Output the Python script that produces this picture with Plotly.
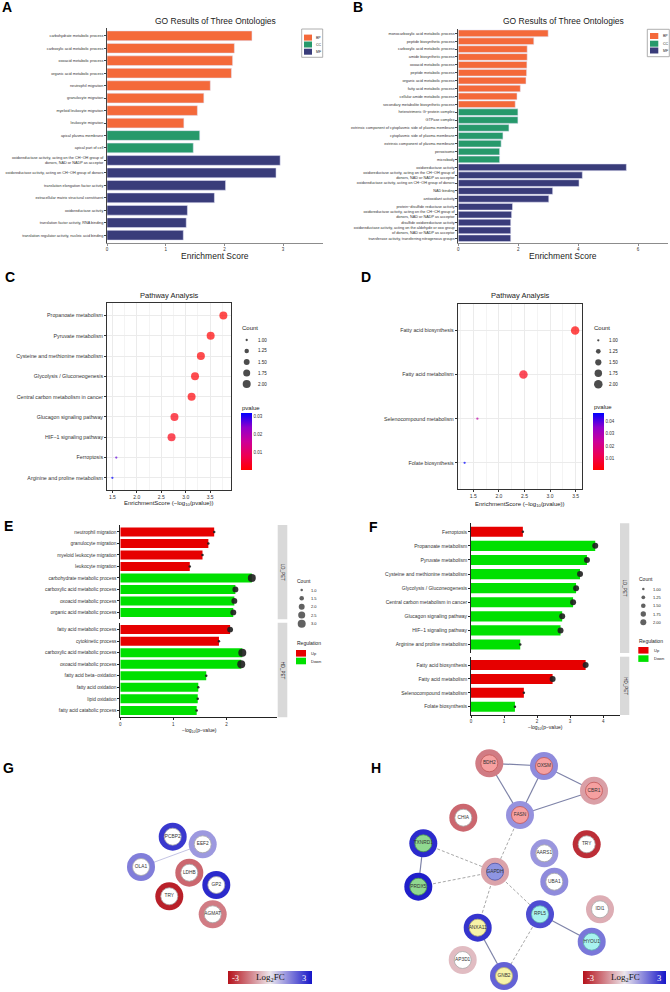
import math
import plotly.graph_objects as go

W, H = 670, 992
FONT = "Liberation Sans, Arial, Helvetica, sans-serif"
SERIF = "Liberation Serif, Times New Roman, serif"

# ---------------- data ----------------
A_terms = [
    "carbohydrate metabolic process",
    "carboxylic acid metabolic process",
    "oxoacid metabolic process",
    "organic acid metabolic process",
    "neutrophil migration",
    "granulocyte migration",
    "myeloid leukocyte migration",
    "leukocyte migration",
    "apical plasma membrane",
    "apical part of cell",
    "oxidoreductase activity, acting on the CH−OH group of<br>donors, NAD or NADP as acceptor",
    "oxidoreductase activity, acting on CH−OH group of donors",
    "translation elongation factor activity",
    "extracellular matrix structural constituent",
    "oxidoreductase activity",
    "translation factor activity, RNA binding",
    "translation regulator activity, nucleic acid binding",
]
A_onto = ["BP"] * 8 + ["CC"] * 2 + ["MF"] * 7
A_score = [2.47, 2.17, 2.14, 2.12, 1.76, 1.65, 1.54, 1.31, 1.58, 1.47,
           2.95, 2.88, 2.02, 1.83, 1.37, 1.35, 1.30]

B_terms = [
    "monocarboxylic acid metabolic process",
    "peptide biosynthetic process",
    "carboxylic acid metabolic process",
    "amide biosynthetic process",
    "oxoacid metabolic process",
    "peptide metabolic process",
    "organic acid metabolic process",
    "fatty acid metabolic process",
    "cellular amide metabolic process",
    "secondary metabolite biosynthetic process",
    "heterotrimeric G−protein complex",
    "GTPase complex",
    "extrinsic component of cytoplasmic side of plasma membrane",
    "cytoplasmic side of plasma membrane",
    "extrinsic component of plasma membrane",
    "peroxisome",
    "microbody",
    "oxidoreductase activity",
    "oxidoreductase activity, acting on the CH−OH group of<br>donors, NAD or NADP as acceptor",
    "oxidoreductase activity, acting on CH−OH group of donors",
    "NAD binding",
    "antioxidant activity",
    "protein−disulfide reductase activity",
    "oxidoreductase activity, acting on the CH−CH group of<br>donors, NAD or NADP as acceptor",
    "disulfide oxidoreductase activity",
    "oxidoreductase activity, acting on the aldehyde or oxo group<br>of donors, NAD or NADP as acceptor",
    "transferase activity, transferring nitrogenous groups",
]
B_onto = ["BP"] * 10 + ["CC"] * 7 + ["MF"] * 10
B_score = [3.00, 2.52, 2.30, 2.30, 2.29, 2.28, 2.26, 2.07, 1.96, 1.90,
           1.99, 1.99, 1.69, 1.49, 1.43, 1.38, 1.38,
           5.61, 4.14, 4.03, 3.15, 3.02, 1.81, 1.78, 1.75, 1.75, 1.75]
ONTO_LEVELS = ["BP", "CC", "MF"]

C_path = ["Propanoate metabolism", "Pyruvate metabolism",
          "Cysteine and methionine metabolism", "Glycolysis / Gluconeogenesis",
          "Central carbon metabolism in cancer", "Glucagon signaling pathway",
          "HIF−1 signaling pathway", "Ferroptosis", "Arginine and proline metabolism"]
C_score = [3.77, 3.51, 3.31, 3.19, 3.12, 2.77, 2.71, 1.58, 1.50]
C_count = [2, 2, 2, 2, 2, 2, 2, 1, 1]

D_path = ["Fatty acid biosynthesis", "Fatty acid metabolism",
          "Selenocompound metabolism", "Folate biosynthesis"]
D_score = [3.49, 2.48, 1.58, 1.33]
D_count = [2, 2, 1, 1]

E_ld_terms = ["neutrophil migration", "granulocyte migration", "myeloid leukocyte migration",
              "leukocyte migration", "carbohydrate metabolic process",
              "carboxylic acid metabolic process", "oxoacid metabolic process",
              "organic acid metabolic process"]
E_ld_score = [1.77, 1.66, 1.55, 1.31, 2.48, 2.17, 2.15, 2.13]
E_ld_reg = ["Up"] * 4 + ["Down"] * 4
E_ld_count = [1, 1, 1, 1, 3, 2, 2, 2]

E_hd_terms = ["fatty acid metabolic process", "cytokinetic process",
              "carboxylic acid metabolic process", "oxoacid metabolic process",
              "fatty acid beta−oxidation", "fatty acid oxidation", "lipid oxidation",
              "fatty acid catabolic process"]
E_hd_score = [2.07, 1.86, 2.30, 2.28, 1.62, 1.47, 1.46, 1.44]
E_hd_reg = ["Up", "Up"] + ["Down"] * 6
E_hd_count = [2, 1, 3, 3, 1, 1, 1, 1]

F_ld_terms = ["Ferroptosis", "Propanoate metabolism", "Pyruvate metabolism",
              "Cysteine and methionine metabolism", "Glycolysis / Gluconeogenesis",
              "Central carbon metabolism in cancer", "Glucagon signaling pathway",
              "HIF−1 signaling pathway", "Arginine and proline metabolism"]
F_ld_score = [1.57, 3.76, 3.51, 3.30, 3.18, 3.09, 2.76, 2.71, 1.49]
F_ld_reg = ["Up"] + ["Down"] * 8
F_ld_count = [1, 2, 2, 2, 2, 2, 2, 2, 1]

F_hd_terms = ["Fatty acid biosynthesis", "Fatty acid metabolism",
              "Selenocompound metabolism", "Folate biosynthesis"]
F_hd_score = [3.47, 2.47, 1.60, 1.33]
F_hd_reg = ["Up", "Up", "Up", "Down"]
F_hd_count = [2, 2, 1, 1]

# PPI networks (node layout coordinates, in px)
G_nodes = ["PCBP2", "EEF2", "OLA1", "LDHB", "GP2", "TRY", "AGMAT"]
G_x = [172.7, 202.7, 141.0, 189.3, 216.3, 169.3, 212.7]
G_y = [836.7, 844.3, 867.0, 872.7, 885.0, 896.3, 914.3]
G_fc = [2.5, 1.1, 1.5, -1.8, 2.7, -2.8, -1.5]
G_edges = [("OLA1", "EEF2")]

H_nodes = ["BDH2", "OXSM", "CBR1", "FASN", "CHIA", "TXNRD1", "TRY", "AARS1", "GAPDH",
           "PRDX5", "UBA1", "IDI1", "RPL5", "ANXA11", "HYOU1", "AP3D1", "GNB2"]
H_x = [489.3, 544.0, 594.0, 520.0, 463.3, 423.3, 586.7, 544.3, 495.0,
       418.3, 554.3, 600.0, 540.0, 477.7, 591.7, 462.7, 504.0]
H_y = [763.3, 766.0, 790.7, 815.0, 817.7, 843.3, 844.3, 853.3, 871.7,
       886.7, 881.7, 909.3, 914.3, 927.7, 941.7, 960.0, 976.0]
H_fc = [-1.5, 1.3, -1.0, 1.2, -1.8, 2.7, -2.6, 1.15, -0.95,
        2.85, 1.3, -0.8, 2.2, 2.55, 1.6, -0.6, 1.9]
H_cluster = ["a", "a", "a", "a", "", "b", "", "", "c",
             "b", "", "", "e", "d", "e", "", "d"]
H_solid = [("BDH2", "OXSM"), ("BDH2", "FASN"), ("OXSM", "FASN"), ("OXSM", "CBR1"),
           ("FASN", "CBR1"), ("TXNRD1", "PRDX5"), ("RPL5", "HYOU1"), ("ANXA11", "GNB2")]
H_dashed = [("FASN", "GAPDH"), ("TXNRD1", "GAPDH"), ("PRDX5", "GAPDH"),
            ("GAPDH", "ANXA11"), ("GAPDH", "RPL5"), ("RPL5", "GNB2")]

# ---------------- styles ----------------
ONTO_COLORS = {"BP": "#F4693A", "CC": "#26996B", "MF": "#393C7A"}
REG_COLORS = {"Up": "#E60000", "Down": "#00E000"}
P_SCALE = [[0, "#FF0000"], [0.25, "#EE0052"], [0.5, "#CC0099"], [0.75, "#9000CC"], [1, "#0000FF"]]
FC_SCALE = [[0, "#B5121B"], [0.5, "#ECE6EC"], [1, "#1515C8"]]
CLUSTER_FILL = {"a": ("#F6A0A0", "#C05858"), "b": ("#90D890", "#4C9A4C"),
                "c": ("#8E95E2", "#4E55A8"), "d": ("#F7F3A8", "#B8B070"),
                "e": ("#A8F3EF", "#5EB0B0"), "": ("#FFFFFF", "#A8A8A8")}


def xd(a, b):
    return [a / W, b / W]


def yd(top, bot):
    return [1 - bot / H, 1 - top / H]


def px(x):
    return x / W


def py(y):
    return 1 - y / H


annotations = []
shapes = []


def ann(text, x, y, size, color="#222", xanchor="center", yanchor="middle",
        family=FONT, angle=0):
    annotations.append(dict(text=text, x=px(x), y=py(y), xref="paper", yref="paper",
                            showarrow=False, xanchor=xanchor, yanchor=yanchor,
                            textangle=angle, borderpad=0,
                            font=dict(size=size, color=color, family=family)))


def rect(x0, y0, x1, y1, fill, line=None, lw=0):
    shapes.append(dict(type="rect", xref="paper", yref="paper",
                       x0=px(x0), x1=px(x1), y0=py(y1), y1=py(y0),
                       fillcolor=fill, line=dict(color=line or fill, width=lw)))


def dsize(c, cmin, cmax, dmin, dmax):
    return math.sqrt(dmin ** 2 + (dmax ** 2 - dmin ** 2) * (c - cmin) / (cmax - cmin))


def cat_axis(domain, anchor, n, fs, linecolor="#444", color="#333", grid=False, mirror=False):
    return dict(domain=domain, anchor=anchor, type="category", range=[n - 0.4, -0.6],
                tickmode="linear", tick0=0, dtick=1, showline=True, linecolor=linecolor,
                linewidth=0.8, mirror=mirror, ticks="outside", ticklen=2, tickwidth=0.6,
                tickcolor=linecolor, tickfont=dict(size=fs, color=color, family=FONT),
                showgrid=grid, gridcolor="#EBEBEB", gridwidth=0.6, zeroline=False,
                fixedrange=True)


def num_axis(domain, anchor, rng, tickvals, ticktext=None, fs=4.5, showline=True,
             linecolor="#444", mirror=False, grid=False, minor_vals=None, showlabels=True):
    d = dict(domain=domain, anchor=anchor, range=rng, tickmode="array", tickvals=tickvals,
             ticktext=ticktext if ticktext else [str(v) for v in tickvals],
             showline=showline, linecolor=linecolor, linewidth=0.8, mirror=mirror,
             ticks="outside" if showlabels else "", ticklen=2, tickwidth=0.6,
             tickcolor=linecolor, showticklabels=showlabels,
             tickfont=dict(size=fs, color="#333", family=FONT),
             showgrid=grid, gridcolor="#EBEBEB", gridwidth=0.6, zeroline=False,
             fixedrange=True)
    if minor_vals:
        d["minor"] = dict(tickvals=minor_vals, showgrid=True, gridcolor="#F4F4F4",
                          gridwidth=0.5, ticks="")
    return d


fig = go.Figure()
layout = {}

# ---------------- A & B : GO bars ----------------
for terms, onto, score, xa, ya, xdom, ydom, rng, tv, bw in [
    (A_terms, A_onto, A_score, "x", "y", xd(107, 323), yd(28.3, 242.7), [0, 3.68], [0, 1, 2, 3], 0.78),
    (B_terms, B_onto, B_score, "x2", "y2", xd(458.3, 668), yd(28.6, 243), [0, 7.0], [0, 2, 4, 6], 0.85),
]:
    fig.add_trace(go.Bar(x=score, y=terms, orientation="h", width=bw,
                         marker=dict(color=[ONTO_COLORS[o] for o in onto],
                                     line=dict(color="rgba(228,228,245,0.9)", width=0.6)),
                         xaxis=xa, yaxis=ya, hoverinfo="skip"))
    xk = "xaxis" + xa[1:]
    yk = "yaxis" + ya[1:]
    layout[xk] = num_axis(xdom, ya, rng, tv, fs=4.5, linecolor="#8C8C8C")
    layout[yk] = cat_axis(ydom, xa, len(terms), 3.8, linecolor="#444")

ann("GO Results of Three Ontologies", 215, 21, 8.5)
ann("GO Results of Three Ontologies", 563.3, 21, 8.5)
ann("Enrichment Score", 215, 256, 8.5)
ann("Enrichment Score", 563.3, 256, 8.5)

# ontology legends
for bx0, by0, bx1, by1, sx0, sx1, tx, ys in [
    (301.7, 29, 322.7, 57.3, 304, 312, 315, [37.6, 44.5, 51.7]),
    (647.3, 29.3, 669.3, 56.7, 650, 658.3, 661.5, [36.0, 43.7, 50.5]),
]:
    rect(bx0, by0, bx1, by1, "rgba(0,0,0,0)", "#9A9A9A", 0.8)
    for lvl, yc in zip(ONTO_LEVELS, ys):
        rect(sx0, yc - 3, sx1, yc + 3, ONTO_COLORS[lvl])
        ann(lvl, tx, yc, 3.5, xanchor="left")

# ---------------- C & D : pathway dot plots ----------------
for path, score, count, xa, ya, xdom, ydom, rng, dmax, cbx, cbt in [
    (C_path, C_score, C_count, "x3", "y3", xd(107, 230.7), yd(303.3, 490), [1.39, 3.92], 8.0, 241, [0.01, 0.02, 0.03]),
    (D_path, D_score, D_count, "x4", "y4", xd(457.7, 582.3), yd(304, 489.3), [1.195, 3.63], 8.5, 593.3, [0.01, 0.02, 0.03, 0.04]),
]:
    pv = [10 ** (-s) for s in score]
    fig.add_trace(go.Scatter(
        x=score, y=path, mode="markers", xaxis=xa, yaxis=ya, cliponaxis=False, hoverinfo="skip",
        marker=dict(size=[dsize(c, 1, 2, 2.3, dmax) for c in count], color=pv,
                    colorscale=P_SCALE, showscale=True, line=dict(width=0),
                    colorbar=dict(x=px(cbx), xanchor="left", y=py(413.3), yanchor="top",
                                  len=56.7, lenmode="pixels", thickness=11, xpad=0, ypad=0,
                                  outlinewidth=0, tickvals=cbt, ticktext=["%.2f" % t for t in cbt],
                                  ticks="", tickfont=dict(size=4.5, color="#333", family=FONT))),
    ))
    xk = "xaxis" + xa[1:]
    yk = "yaxis" + ya[1:]
    layout[xk] = num_axis(xdom, ya, rng, [1.5, 2.0, 2.5, 3.0, 3.5],
                          ["1.5", "2.0", "2.5", "3.0", "3.5"], fs=5, linecolor="#333",
                          mirror=True, grid=True, minor_vals=[1.25, 1.75, 2.25, 2.75, 3.25, 3.75])
    layout[yk] = cat_axis(ydom, xa, len(path), 5.3, linecolor="#333", grid=True, mirror=True)

ann("Pathway Analysis", 169, 296, 7.5)
ann("Pathway Analysis", 520, 296, 7.5)
ann("EnrichmentScore (−log<sub>10</sub>(pvalue))", 169, 503.5, 6)
ann("EnrichmentScore (−log<sub>10</sub>(pvalue))", 520, 504, 6)

# ---------------- E & F : facet bars ----------------
facets = [
    (E_ld_terms, E_ld_score, E_ld_reg, E_ld_count, "x5", "y5", xd(120.3, 277.3), yd(525, 619.3), [0, 2.96], [0, 1, 2], False, (1, 3, 2.5, 8.0), 4.8, 0.78),
    (E_hd_terms, E_hd_score, E_hd_reg, E_hd_count, "x6", "y6", xd(120.3, 277.3), yd(622.7, 717.3), [0, 2.96], [0, 1, 2], True, (1, 3, 2.5, 8.0), 4.8, 0.78),
    (F_ld_terms, F_ld_score, F_ld_reg, F_ld_count, "x7", "y7", xd(471, 620), yd(523.3, 653), [0, 4.51], [0, 1, 2, 3, 4], False, (1, 2, 2.5, 6.0), 5.0, 0.72),
    (F_hd_terms, F_hd_score, F_hd_reg, F_hd_count, "x8", "y8", xd(471, 620), yd(656.7, 715), [0, 4.51], [0, 1, 2, 3, 4], True, (1, 2, 2.5, 6.0), 5.0, 0.72),
]
for terms, score, reg, count, xa, ya, xdom, ydom, rng, tv, bottom, sz, fs, bw in facets:
    fig.add_trace(go.Bar(x=score, y=terms, orientation="h", width=bw,
                         marker=dict(color=[REG_COLORS[r] for r in reg], line=dict(width=0)),
                         xaxis=xa, yaxis=ya, hoverinfo="skip"))
    fig.add_trace(go.Scatter(x=score, y=terms, mode="markers", xaxis=xa, yaxis=ya,
                             cliponaxis=False, hoverinfo="skip",
                             marker=dict(size=[dsize(c, *sz) for c in count],
                                         color="#1E1E1E", opacity=0.9, line=dict(width=0))))
    xk = "xaxis" + xa[1:]
    yk = "yaxis" + ya[1:]
    layout[xk] = num_axis(xdom, ya, rng, tv, fs=4.5, showline=bottom, linecolor="#222",
                          showlabels=bottom)
    layout[yk] = cat_axis(ydom, xa, len(terms), fs, linecolor="#222")

# strips
for x0, x1, y0, y1, lab in [
    (277.7, 287.3, 525, 619.3, "LD_PET"), (277.7, 287.3, 622.7, 717.3, "HD_PET"),
    (620, 629.3, 523.3, 653, "LD_PET"), (620, 629.3, 656.7, 715, "HD_PET"),
]:
    rect(x0, y0, x1, y1, "#D9D9D9")
    ann(lab, (x0 + x1) / 2, (y0 + y1) / 2, 4.5, color="#1A1A1A", angle=90)

ann("−log<sub>10</sub>(p−value)", 199, 730, 5)
ann("−log<sub>10</sub>(p−value)", 545.7, 727.5, 5)

# ---------------- overlay pixel axis (legends + networks) ----------------
layout["xaxis9"] = dict(domain=[0, 1], range=[0, W], visible=False, fixedrange=True, anchor="y9")
layout["yaxis9"] = dict(domain=[0, 1], range=[H, 0], visible=False, fixedrange=True, anchor="x9")


def count_legend(tx, ty, cx, lx, ys, levels, labels, sz, tsize, lsize, color):
    ann("Count", tx, ty, tsize, xanchor="left")
    fig.add_trace(go.Scatter(x=[cx] * len(ys), y=ys, mode="markers", xaxis="x9", yaxis="y9",
                             hoverinfo="skip", cliponaxis=False,
                             marker=dict(size=[dsize(v, *sz) for v in levels], color=color,
                                         line=dict(width=0))))
    for y, l in zip(ys, labels):
        ann(l, lx, y, lsize, xanchor="left")


lv4 = [1.0, 1.25, 1.5, 1.75, 2.0]
lb4 = ["1.00", "1.25", "1.50", "1.75", "2.00"]
count_legend(241, 327.7, 246.7, 256.5, [340, 351, 362, 373, 384], lv4, lb4, (1, 2, 2.3, 8.0), 6, 4.5, "black")
count_legend(593.3, 327.7, 598.3, 607.7, [340.3, 351.3, 362.3, 373.3, 384.3], lv4, lb4, (1, 2, 2.3, 8.5), 6, 4.5, "black")
ann("pvalue", 241, 407.7, 6, xanchor="left")
ann("pvalue", 593.3, 407.3, 6, xanchor="left")

count_legend(296, 580.7, 301.7, 310, [590, 598.3, 606.7, 615, 623.7],
             [1.0, 1.5, 2.0, 2.5, 3.0], ["1.0", "1.5", "2.0", "2.5", "3.0"], (1, 3, 2.5, 8.0), 5, 4, "#1E1E1E")
count_legend(638.3, 579.3, 643.3, 652, [589, 597.3, 605.7, 614, 622.3],
             lv4, lb4, (1, 2, 2.5, 6.0), 5, 4, "#1E1E1E")

for tx, ty, bx0, bx1, yu, ydn in [(296, 643.3, 296, 306, 653.3, 661), (638.3, 640.7, 638.3, 648.5, 650.3, 658.6)]:
    ann("Regulation", tx, ty, 5, xanchor="left")
    for lvl, yc in [("Up", yu), ("Down", ydn)]:
        rect(bx0, yc - 3.3, bx1, yc + 3.3, REG_COLORS[lvl])
        ann(lvl, bx1 + 4, yc, 4, xanchor="left")


# networks
def draw_edges(nodes, xs, ys, edges, color, width, dash):
    idx = {n: i for i, n in enumerate(nodes)}
    ex, ey = [], []
    for a, b in edges:
        ex += [xs[idx[a]], xs[idx[b]], None]
        ey += [ys[idx[a]], ys[idx[b]], None]
    fig.add_trace(go.Scatter(x=ex, y=ey, mode="lines", xaxis="x9", yaxis="y9", hoverinfo="skip",
                             line=dict(color=color, width=width, dash=dash)))


def draw_nodes(nodes, xs, ys, fc, clusters, cbx0, cblen):
    fig.add_trace(go.Scatter(
        x=xs, y=ys, mode="markers", xaxis="x9", yaxis="y9", hoverinfo="skip", cliponaxis=False,
        marker=dict(size=28, color=fc, colorscale=FC_SCALE, cmin=-3, cmax=3, line=dict(width=0),
                    showscale=True,
                    colorbar=dict(orientation="h", x=px(cbx0), xanchor="left", y=py(971),
                                  yanchor="top", len=cblen, lenmode="pixels", thickness=13,
                                  xpad=0, ypad=0, outlinewidth=0, showticklabels=False, ticks=""))))
    fills = [CLUSTER_FILL[c][0] for c in clusters]
    borders = [CLUSTER_FILL[c][1] for c in clusters]
    fig.add_trace(go.Scatter(
        x=xs, y=ys, mode="markers+text", text=nodes, textposition="middle center",
        xaxis="x9", yaxis="y9", hoverinfo="skip", cliponaxis=False,
        textfont=dict(size=4.8, color="#333", family=FONT),
        marker=dict(size=17, color=fills, line=dict(color=borders, width=0.8))))


draw_edges(G_nodes, G_x, G_y, G_edges, "#B4B4DC", 0.8, "solid")
draw_nodes(G_nodes, G_x, G_y, G_fc, [""] * len(G_nodes), 228.3, 84)

draw_edges(H_nodes, H_x, H_y, H_dashed, "#A8A8A8", 1.0, "3px,2px")
draw_edges(H_nodes, H_x, H_y, H_solid, "#7E83A8", 1.2, "solid")
draw_nodes(H_nodes, H_x, H_y, H_fc, H_cluster, 583.3, 83.4)

for x0, x1 in [(228.3, 312.3), (583.3, 666.7)]:
    ann("-3", x0 + 7.5, 977.5, 8.5, color="white", family=SERIF)
    ann("Log<sub>2</sub>FC", (x0 + x1) / 2 + 0.5, 977.2, 9, color="#111", family=SERIF)
    ann("3", x1 - 8, 977.5, 8.5, color="white", family=SERIF)

# panel letters
for lab, x, y in [("A", 6.5, 7), ("B", 357.5, 7), ("C", 10, 277), ("D", 366, 277),
                  ("E", 8, 526), ("F", 373.5, 527), ("G", 8, 767.5), ("H", 376.5, 767.5)]:
    ann("<b>%s</b>" % lab, x, y, 14, color="#000")

layout.update(dict(width=W, height=H, margin=dict(l=0, r=0, t=0, b=0),
                   paper_bgcolor="white", plot_bgcolor="rgba(0,0,0,0)", showlegend=False,
                   font=dict(family=FONT, color="#333"), annotations=annotations, shapes=shapes,
                   bargap=0.2))
fig.update_layout(**layout)
fig.write_html("out.html")
